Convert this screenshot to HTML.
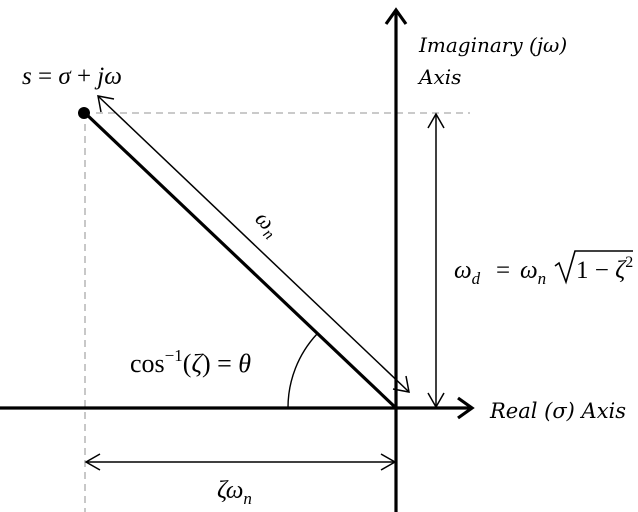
<!DOCTYPE html>
<html><head><meta charset="utf-8"><style>
html,body{margin:0;padding:0;background:#fff;}
svg{display:block;}
text{font-family:"Liberation Serif","DejaVu Serif",serif;fill:#000;}
.it{font-style:italic;}
.ax{font-family:"DejaVu Serif","Liberation Serif",serif;font-style:italic;}
</style></head><body>
<svg width="638" height="512" viewBox="0 0 638 512" xmlns="http://www.w3.org/2000/svg">
<line x1="96" y1="113" x2="470" y2="113" stroke="#aaa" stroke-width="1.3" stroke-dasharray="7,5"/>
<line x1="85" y1="124" x2="85" y2="512" stroke="#aaa" stroke-width="1.3" stroke-dasharray="7,5"/>
<line x1="0" y1="408" x2="470" y2="408" stroke="#000" stroke-width="3.2"/>
<polyline points="458,398 472,408 458,418" fill="none" stroke="#000" stroke-width="3.2"/>
<line x1="396" y1="12" x2="396" y2="512" stroke="#000" stroke-width="3.2"/>
<polyline points="386,24 396,10 406,24" fill="none" stroke="#000" stroke-width="3.2"/>
<line x1="85" y1="113" x2="396" y2="408" stroke="#000" stroke-width="3.2"/>
<circle cx="84" cy="113" r="6" fill="#000"/>
<line x1="99" y1="97" x2="408" y2="391" stroke="#000" stroke-width="1.5"/>
<polyline points="101,112 98,96 114,99" fill="none" stroke="#000" stroke-width="1.5"/>
<polyline points="406,376 409,392 393,389" fill="none" stroke="#000" stroke-width="1.5"/>
<line x1="436" y1="114" x2="436" y2="407" stroke="#000" stroke-width="1.5"/>
<polyline points="428,128 436,114 444,128" fill="none" stroke="#000" stroke-width="1.5"/>
<polyline points="428,393 436,407 444,393" fill="none" stroke="#000" stroke-width="1.5"/>
<line x1="86" y1="462" x2="395" y2="462" stroke="#000" stroke-width="1.5"/>
<polyline points="100,454 86,462 100,470" fill="none" stroke="#000" stroke-width="1.5"/>
<polyline points="381,454 395,462 381,470" fill="none" stroke="#000" stroke-width="1.5"/>
<path d="M288,408 A108,108 0 0 1 317,334" fill="none" stroke="#000" stroke-width="1.4"/>
<text x="22" y="84" font-size="25"><tspan class="it">s</tspan> = <tspan class="it">σ</tspan> + <tspan class="it">jω</tspan></text>
<text x="419" y="52" class="ax" font-size="20">Imaginary (jω)</text>
<text x="419" y="84" class="ax" font-size="20">Axis</text>
<text x="490" y="418" class="ax" font-size="21">Real (σ) Axis</text>
<text x="0" y="0" font-size="23" transform="translate(254,220) rotate(44)"><tspan class="it">ω</tspan><tspan class="it" font-size="16" dy="5">n</tspan></text>
<!-- omega_d formula -->
<text x="454" y="278" font-size="25"><tspan class="it">ω</tspan><tspan class="it" font-size="17" dy="6">d</tspan></text>
<text x="496" y="278" font-size="25">=</text>
<text x="520" y="278" font-size="25"><tspan class="it">ω</tspan><tspan class="it" font-size="17" dy="6">n</tspan></text>
<path d="M555,266 L559,263 L566,282 L575,251 L633,251" fill="none" stroke="#000" stroke-width="1.6"/>
<text x="576" y="278" font-size="25">1 − <tspan class="it">ζ</tspan><tspan font-size="16" dy="-11">2</tspan></text>
<text x="130" y="372" font-size="26">cos<tspan font-size="17" dy="-11">−1</tspan><tspan dy="11">(</tspan><tspan class="it">ζ</tspan>) = <tspan class="it">θ</tspan></text>
<text x="217" y="498" font-size="25"><tspan class="it">ζω</tspan><tspan class="it" font-size="17" dy="6">n</tspan></text>
</svg>
</body></html>
